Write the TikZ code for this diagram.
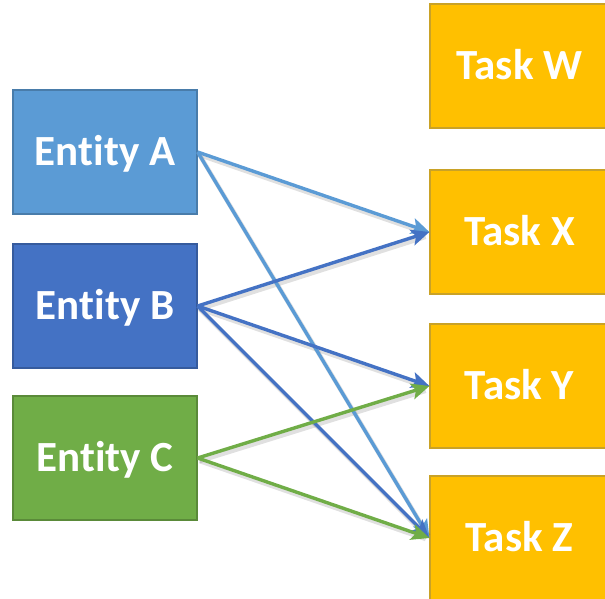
\documentclass[tikz,border=0pt]{standalone}
\usepackage{fontspec}
\setmainfont{Carlito}[Ligatures=NoCommon]
\usetikzlibrary{arrows.meta}
\definecolor{entA}{HTML}{5B9BD5}
\definecolor{entB}{HTML}{4472C4}
\definecolor{entC}{HTML}{70AD47}
\definecolor{task}{HTML}{FFC000}
\definecolor{taskline}{HTML}{C9A227}
\tikzset{
  box/.style={rectangle, minimum width=184pt, minimum height=124pt, inner sep=0pt,
    text height=32pt, text depth=6pt,
    line width=1.2pt, text=white, font=\fontsize{43}{46}\selectfont\bfseries},
  entbox/.style={box, fill=#1, draw=#1!80!black},
  taskbox/.style={box, fill=task, draw=taskline},
  link/.style={line width=3.4pt, draw=#1, -{Stealth[length=18pt, width=16pt, inset=4pt]}},
  shade/.style={line width=4.5pt, draw=black, opacity=0.12, shorten >=6pt}
}
\begin{document}
\begin{tikzpicture}[x=1pt, y=-1pt]
  \useasboundingbox (0,0) rectangle (605,598);
  \begin{scope}
    \clip (0,0) rectangle (605,598);
    % entity column
    \node[entbox=entA] (A) at (105,152) {Entity A};
    \node[entbox=entB] (B) at (105,306) {Entity B};
    \node[entbox=entC] (C) at (105,458) {Entity C};
    % task column (boxes run past the right edge)
    \node[taskbox] (W) at (522,66)  {\hspace*{-5pt}Task W};
    \node[taskbox] (X) at (522,232) {\hspace*{-5pt}Task X};
    \node[taskbox] (Y) at (522,386) {\hspace*{-5pt}Task Y};
    \node[taskbox] (Z) at (522,538) {\hspace*{-5pt}Task Z};
    % soft shadows under the links
    \foreach \s/\t in {A/X,A/Z,B/X,B/Y,B/Z,C/Y,C/Z}
      \draw[shade] ([shift={(2,3)}]\s.east) -- ([shift={(2,3)}]\t.west);
    % links
    \draw[link=entA] (A.east) -- (X.west);
    \draw[link=entA] (A.east) -- (Z.west);
    \draw[link=entB] (B.east) -- (X.west);
    \draw[link=entB] (B.east) -- (Y.west);
    \draw[link=entB] (B.east) -- (Z.west);
    \draw[link=entC] (C.east) -- (Y.west);
    \draw[link=entC] (C.east) -- (Z.west);
  \end{scope}
\end{tikzpicture}
\end{document}
